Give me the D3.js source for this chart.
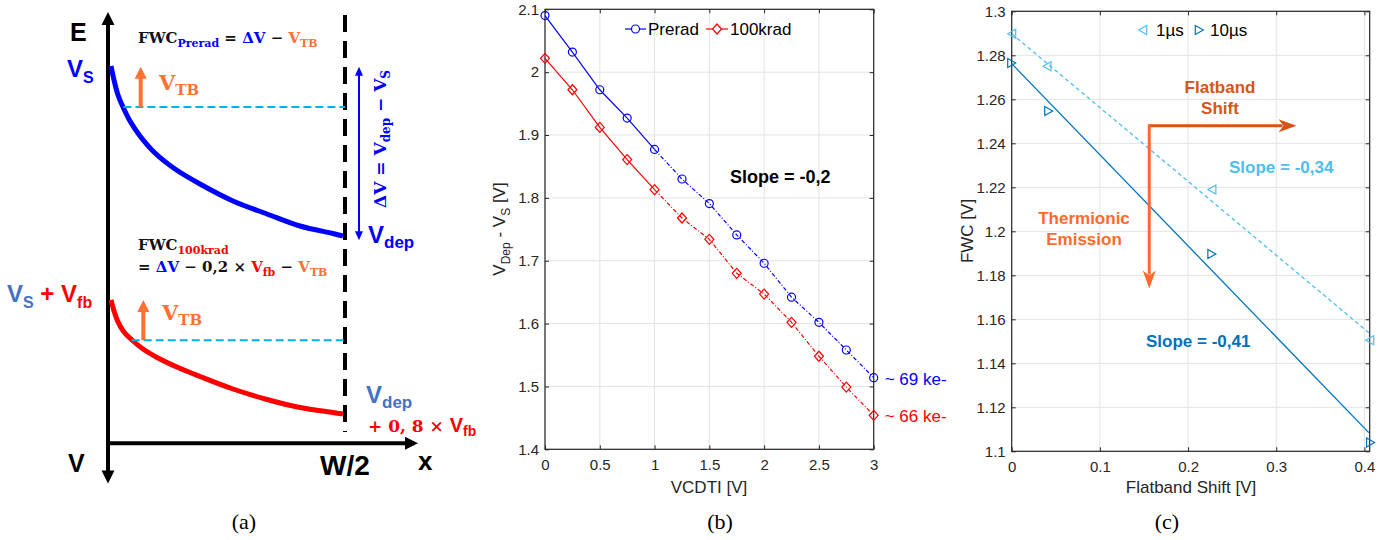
<!DOCTYPE html>
<html><head><meta charset="utf-8">
<script src="https://cdn.jsdelivr.net/npm/d3@7"></script>
<style>body{margin:0;background:#fff;}svg{display:block;}</style>
</head><body>
<script>
// ================= DATA =================
// Panel (a): schematic band diagram (x in % of W/2, y in % of energy-axis height)
const aBlueCurve = [[1.27,87.48],[2.53,84.24],[4.22,80.76],[6.33,77.98],[9.28,74.73],[13.5,71.26],[19.83,67.31],[28.27,63.6],[38.82,60.12],[52.74,56.18],[67.09,53.17],[81.01,50.38],[94.94,48.64],[99.16,48.06]];
const aRedCurve  = [[1.27,33.25],[2.53,30.7],[4.22,28.15],[6.75,25.81],[10.13,23.95],[14.77,21.86],[21.1,19.78],[29.54,17.57],[38.82,15.49],[52.74,12.59],[67.09,10.16],[81.01,8.3],[94.94,7.14],[99.16,6.79]];
const aBlueLevel = [6.5, 78.0];   // [x start, level]
const aRedLevel  = [10.0, 23.9];
const aTBArrows  = [[13.8, 78.0, 87.3], [14.9, 23.9, 33.2]]; // x, from, tip
const aDeltaArrow = [105.9, 87.3, 47.1];

// Panel (b)
const vcdti     = [0,0.25,0.5,0.75,1,1.25,1.5,1.75,2,2.25,2.5,2.75,3];
const preradV   = [2.090,2.032,1.972,1.927,1.877,1.830,1.791,1.741,1.696,1.642,1.602,1.558,1.514];
const krad100V  = [2.022,1.972,1.912,1.861,1.813,1.768,1.734,1.680,1.647,1.602,1.548,1.499,1.454];
const bXTicks   = [0,0.5,1,1.5,2,2.5,3];
const bYTicks   = [1.4,1.5,1.6,1.7,1.8,1.9,2.0,2.1];
const bSeriesNames = ["Prerad","100krad"];

// Panel (c)
const shift1us  = [0, 0.040, 0.227, 0.406];
const fwc1us    = [1.2898, 1.275, 1.219, 1.1505];
const shift10us = [0, 0.042, 0.227, 0.407];
const fwc10us   = [1.2765, 1.2547, 1.1897, 1.104];
const fit1usX   = [0, 0.405];
const fit1usY   = [1.2898, 1.1539];
const fit10usX  = [0, 0.405];
const fit10usY  = [1.2762, 1.1085];
const cXTicks   = [0,0.1,0.2,0.3,0.4];
const cYTicks   = [1.1,1.12,1.14,1.16,1.18,1.2,1.22,1.24,1.26,1.28,1.3];
const cSeriesNames = ["1µs","10µs"];
const cArrow    = {x:0.156, y:1.248, hTip:0.323, vTip:1.174};

// ================= DRAW =================
const W=1396,H=540;
const svg=d3.select("body").append("svg").attr("width",W).attr("height",H);
const SANS="'Liberation Sans', Arial, Helvetica, sans-serif";
const SERIF="'DejaVu Serif', serif";
const TIMES="'Liberation Serif', 'Times New Roman', serif";
const AX="#262626", GRID="#e3e3e3";

function head(g, tip, dir, len, hw, color, notch){
  notch = notch||0;
  const d = {up:[0,1],down:[0,-1],left:[1,0],right:[-1,0]}[dir];
  const p = [-d[1], d[0]];
  const [tx,ty]=tip, bx=tx+d[0]*len, by=ty+d[1]*len;
  const pts=[[tx,ty],[bx+p[0]*hw,by+p[1]*hw],[tx+d[0]*(len-notch),ty+d[1]*(len-notch)],[bx-p[0]*hw,by-p[1]*hw]];
  g.append("path").attr("d","M"+pts.map(q=>q.join(",")).join("L")+"Z").attr("fill",color);
}
function txt(g,x,y,parts,opts){
  const t=g.append("text").attr("x",x).attr("y",y);
  if(opts){for(const k in opts) t.attr(k,opts[k]);}
  parts.forEach(p=>{
    const s=t.append("tspan").text(p.t);
    if(p.c) s.attr("fill",p.c);
    if(p.s) s.attr("font-size",p.s);
    if(p.f) s.attr("font-family",p.f);
    if(p.dy!==undefined) s.attr("dy",p.dy);
    if(p.w) s.attr("font-weight",p.w);
  });
  return t;
}

// ---------- Panel (a) ----------
const gA=svg.append("g");
const xA=d3.scaleLinear().domain([0,100]).range([108,345]);
const yA=d3.scaleLinear().domain([0,100]).range([443.3,12]);
gA.append("line").attr("x1",xA(0)).attr("x2",xA(0)).attr("y1",yA(97)).attr("y2",yA(-6.5)).attr("stroke","#000").attr("stroke-width",4);
head(gA,[xA(0),yA(100)],"up",13,6.5,"#000");
head(gA,[xA(0),yA(-9.3)],"down",13,6.5,"#000");
gA.append("line").attr("x1",xA(0)-2).attr("x2",xA(126)).attr("y1",yA(0)).attr("y2",yA(0)).attr("stroke","#000").attr("stroke-width",4);
head(gA,[xA(130.8),yA(0)],"right",13,6.5,"#000");
// W/2 dashed boundary
gA.append("line").attr("x1",xA(100)).attr("x2",xA(100)).attr("y1",yA(99.3)).attr("y2",yA(2.6))
  .attr("stroke","#000").attr("stroke-width",4).attr("stroke-dasharray","17,9");
// potential curves
const lineA=d3.line().x(d=>xA(d[0])).y(d=>yA(d[1])).curve(d3.curveCatmullRom.alpha(0.5));
gA.append("path").attr("d",lineA(aBlueCurve)).attr("fill","none").attr("stroke","#0000ff").attr("stroke-width",5);
gA.append("path").attr("d",lineA(aRedCurve)).attr("fill","none").attr("stroke","#ff0000").attr("stroke-width",5);
// levels
[aBlueLevel,aRedLevel].forEach(l=>{
  gA.append("line").attr("x1",xA(l[0])).attr("x2",xA(100)).attr("y1",yA(l[1])).attr("y2",yA(l[1]))
    .attr("stroke","#00b0f0").attr("stroke-width",2).attr("stroke-dasharray","8,4");
});
// V_TB arrows
const ORANGE="#ff7033";
aTBArrows.forEach(a=>{
  gA.append("line").attr("x1",xA(a[0])).attr("x2",xA(a[0])).attr("y1",yA(a[1])).attr("y2",yA(a[2])+10).attr("stroke",ORANGE).attr("stroke-width",4);
  head(gA,[xA(a[0]),yA(a[2])],"up",12,6,ORANGE);
});
// delta V double arrow
gA.append("line").attr("x1",xA(aDeltaArrow[0])).attr("x2",xA(aDeltaArrow[0])).attr("y1",yA(aDeltaArrow[1])+6).attr("y2",yA(aDeltaArrow[2])-6).attr("stroke","#0000ff").attr("stroke-width",2);
head(gA,[xA(aDeltaArrow[0]),yA(aDeltaArrow[1])],"up",9,4,"#0000ff");
head(gA,[xA(aDeltaArrow[0]),yA(aDeltaArrow[2])],"down",9,4,"#0000ff");

// texts (a)
const BL="#0000ff", STEEL="#4472c4", RED="#ff0000";
txt(gA,70,41,[{t:"E"}],{"font-family":SANS,"font-weight":"bold","font-size":25,fill:"#000"});
txt(gA,68,472,[{t:"V"}],{"font-family":SANS,"font-weight":"bold","font-size":25,fill:"#000"});
txt(gA,320,475,[{t:"W/2"}],{"font-family":SANS,"font-weight":"bold","font-size":28,fill:"#000"});
txt(gA,418,470,[{t:"x"}],{"font-family":SANS,"font-weight":"bold","font-size":26,fill:"#000"});
txt(gA,67,77,[{t:"V"},{t:"S",s:16,dy:6}],{"font-family":SANS,"font-weight":"bold","font-size":24,fill:BL});
txt(gA,7,302,[{t:"V",c:STEEL},{t:"S",s:16,dy:6,c:STEEL},{t:" + V",dy:-6,c:RED},{t:"fb",s:16,dy:6,c:RED}],{"font-family":SANS,"font-weight":"bold","font-size":24});
txt(gA,368,243,[{t:"V"},{t:"dep",s:17,dy:5}],{"font-family":SANS,"font-weight":"bold","font-size":24,fill:BL});
txt(gA,366,403,[{t:"V"},{t:"dep",s:17,dy:5}],{"font-family":SANS,"font-weight":"bold","font-size":24,fill:STEEL});
txt(gA,368,432,[{t:"+ 0, 8 × ",f:SERIF},{t:"V",f:SANS,s:20},{t:"fb",f:SANS,s:14,dy:4}],{"font-weight":"bold","font-size":17,fill:RED});
// V_TB labels
txt(gA,159,90,[{t:"V"},{t:"TB",s:15,dy:5}],{"font-family":SERIF,"font-weight":"bold","font-size":21,fill:ORANGE});
txt(gA,162,320,[{t:"V"},{t:"TB",s:15,dy:5}],{"font-family":SERIF,"font-weight":"bold","font-size":21,fill:ORANGE});
// formulas
txt(gA,138,43,[{t:"FWC"},{t:"Prerad",s:11,dy:4,c:BL},{t:" = ",dy:-4},{t:"ΔV",c:BL},{t:" − "},{t:"V",c:ORANGE},{t:"TB",s:11,dy:4,c:ORANGE}],
  {"font-family":SERIF,"font-weight":"bold","font-size":15,fill:"#111"});
txt(gA,138,250,[{t:"FWC"},{t:"100krad",s:11,dy:4,c:RED}],{"font-family":SERIF,"font-weight":"bold","font-size":15,fill:"#111"});
txt(gA,138,272,[{t:"= "},{t:"ΔV",c:BL},{t:" − 0,2 × "},{t:"V",c:RED},{t:"fb",s:11,dy:4,c:RED},{t:" − ",dy:-4},{t:"V",c:ORANGE},{t:"TB",s:11,dy:4,c:ORANGE}],
  {"font-family":SERIF,"font-weight":"bold","font-size":15,fill:"#111"});
// rotated delta V
txt(gA,0,0,[{t:"ΔV = V"},{t:"dep",s:12,dy:4},{t:" − V",dy:-4},{t:"S",s:12,dy:4}],
  {"font-family":SERIF,"font-weight":"bold","font-size":17,fill:BL,transform:"translate(386,208) rotate(-90)"});
txt(gA,244,529,[{t:"(a)"}],{"font-family":TIMES,"font-size":22,"text-anchor":"middle",fill:"#000"});

// ---------- generic MATLAB-style axes ----------
function matAxes(g,x,y,xt,yt,fmt){
  const [x0,x1]=x.range(), [y0,y1]=y.range();
  const grid=g.append("g");
  xt.forEach(v=>grid.append("line").attr("x1",x(v)).attr("x2",x(v)).attr("y1",y0).attr("y2",y1).attr("stroke",GRID).attr("stroke-width",1));
  yt.forEach(v=>grid.append("line").attr("x1",x0).attr("x2",x1).attr("y1",y(v)).attr("y2",y(v)).attr("stroke",GRID).attr("stroke-width",1));
  const style=a=>{a.selectAll(".domain").remove();a.selectAll("line").attr("stroke",AX);a.selectAll("text").attr("fill",AX).attr("font-size",15).attr("font-family",SANS);};
  g.append("g").attr("transform",`translate(0,${y0})`).call(d3.axisBottom(x).tickValues(xt).tickSize(-4).tickPadding(10).tickFormat(fmt)).call(style);
  g.append("g").attr("transform",`translate(0,${y1})`).call(d3.axisTop(x).tickValues(xt).tickSize(-4).tickFormat("")).call(style);
  g.append("g").attr("transform",`translate(${x0},0)`).call(d3.axisLeft(y).tickValues(yt).tickSize(-4).tickPadding(6).tickFormat(fmt)).call(style);
  g.append("g").attr("transform",`translate(${x1},0)`).call(d3.axisRight(y).tickValues(yt).tickSize(-4).tickFormat("")).call(style);
  g.append("rect").attr("x",x0).attr("y",y1).attr("width",x1-x0).attr("height",y0-y1).attr("fill","none").attr("stroke",AX).attr("stroke-width",1.2);
}
const fmtNum=d=>String(+d.toFixed(3));

// ---------- Panel (b) ----------
const gB=svg.append("g");
const xB=d3.scaleLinear().domain([0,3]).range([545,873.7]);
const yB=d3.scaleLinear().domain([1.4,2.1]).range([449.3,9.3]);
matAxes(gB,xB,yB,bXTicks,bYTicks,fmtNum);
const bSeries=[{v:preradV,c:"#0000ff",m:"o"},{v:krad100V,c:"#ff0000",m:"d"}];
const lineB=d3.line().x(d=>xB(d[0])).y(d=>yB(d[1]));
const diamond="M0,-5L4.5,0L0,5L-4.5,0Z";
bSeries.forEach(s=>{
  const pts=vcdti.map((x,i)=>[x,s.v[i]]);
  gB.append("path").attr("d",lineB(pts.filter(p=>p[0]<=1))).attr("fill","none").attr("stroke",s.c).attr("stroke-width",1.2);
  gB.append("path").attr("d",lineB(pts.filter(p=>p[0]>=1))).attr("fill","none").attr("stroke",s.c).attr("stroke-width",1.2).attr("stroke-dasharray","4,2,1,2");
  pts.forEach(p=>{
    if(s.m==="o") gB.append("circle").attr("cx",xB(p[0])).attr("cy",yB(p[1])).attr("r",4).attr("fill","none").attr("stroke",s.c).attr("stroke-width",1.2);
    else gB.append("path").attr("d",diamond).attr("transform",`translate(${xB(p[0])},${yB(p[1])})`).attr("fill","none").attr("stroke",s.c).attr("stroke-width",1.2);
  });
});
// legend (b)
[[625,646,bSeriesNames[0],bSeries[0]],[706,728,bSeriesNames[1],bSeries[1]]].forEach(([a,b,n,s])=>{
  gB.append("line").attr("x1",a).attr("x2",b).attr("y1",29).attr("y2",29).attr("stroke",s.c).attr("stroke-width",1.2);
  const mx=(a+b)/2;
  if(s.m==="o") gB.append("circle").attr("cx",mx).attr("cy",29).attr("r",4).attr("fill","#fff").attr("stroke",s.c).attr("stroke-width",1.2);
  else gB.append("path").attr("d",diamond).attr("transform",`translate(${mx},29)`).attr("fill","#fff").attr("stroke",s.c).attr("stroke-width",1.2);
  txt(gB,b+2,35,[{t:n}],{"font-family":SANS,"font-size":17,fill:"#000"});
});
txt(gB,730,183,[{t:"Slope = -0,2"}],{"font-family":SANS,"font-size":18,"font-weight":"bold",fill:"#000"});
txt(gB,xB(3)+11,385,[{t:"~ 69 ke-"}],{"font-family":SANS,"font-size":17,fill:"#0000ff"});
txt(gB,xB(3)+11,422,[{t:"~ 66 ke-"}],{"font-family":SANS,"font-size":17,fill:"#ff0000"});
txt(gB,709,493,[{t:"VCDTI [V]"}],{"font-family":SANS,"font-size":17,"text-anchor":"middle",fill:AX});
txt(gB,0,0,[{t:"V"},{t:"Dep",s:12,dy:5},{t:" - V",dy:-5},{t:"S",s:12,dy:5},{t:" [V]",dy:-5}],
  {"font-family":SANS,"font-size":17,"text-anchor":"middle",fill:AX,transform:"translate(505,229) rotate(-90)"});
txt(gB,720,529,[{t:"(b)"}],{"font-family":TIMES,"font-size":22,"text-anchor":"middle",fill:"#000"});

// ---------- Panel (c) ----------
const gC=svg.append("g");
const xC=d3.scaleLinear().domain([0,0.406]).range([1011.7,1369.7]);
const yC=d3.scaleLinear().domain([1.1,1.3]).range([451.3,11.3]);
matAxes(gC,xC,yC,cXTicks,cYTicks,fmtNum);
const C1="#4dbeee", C10="#0072bd";
const lineC=d3.line().x(d=>xC(d[0])).y(d=>yC(d[1]));
gC.append("path").attr("d",lineC(fit1usX.map((x,i)=>[x,fit1usY[i]]))).attr("fill","none").attr("stroke",C1).attr("stroke-width",1.3).attr("stroke-dasharray","4,3");
gC.append("path").attr("d",lineC(fit10usX.map((x,i)=>[x,fit10usY[i]]))).attr("fill","none").attr("stroke",C10).attr("stroke-width",1.3);
const triL="M-4,0L4,-4.5L4,4.5Z", triR="M4,0L-4,-4.5L-4,4.5Z";
shift1us.forEach((x,i)=>gC.append("path").attr("d",triL).attr("transform",`translate(${xC(x)},${yC(fwc1us[i])})`).attr("fill","none").attr("stroke",C1).attr("stroke-width",1.2));
shift10us.forEach((x,i)=>gC.append("path").attr("d",triR).attr("transform",`translate(${xC(x)},${yC(fwc10us[i])})`).attr("fill","none").attr("stroke",C10).attr("stroke-width",1.2));
// legend (c)
gC.append("path").attr("d",triL).attr("transform","translate(1142.7,30)").attr("fill","none").attr("stroke",C1).attr("stroke-width",1.2);
txt(gC,1156,36,[{t:cSeriesNames[0]}],{"font-family":SANS,"font-size":17,fill:"#000"});
gC.append("path").attr("d",triR).attr("transform","translate(1199.3,30)").attr("fill","none").attr("stroke",C10).attr("stroke-width",1.2);
txt(gC,1210,36,[{t:cSeriesNames[1]}],{"font-family":SANS,"font-size":17,fill:"#000"});
// orange arrows
const OR1="#d95319", OR2="#ff6a2c";
gC.append("line").attr("x1",xC(cArrow.x)).attr("x2",xC(cArrow.hTip)-14).attr("y1",yC(cArrow.y)).attr("y2",yC(cArrow.y)).attr("stroke",OR1).attr("stroke-width",3);
head(gC,[xC(cArrow.hTip),yC(cArrow.y)],"right",18,6.5,OR1,5);
gC.append("line").attr("x1",xC(cArrow.x)).attr("x2",xC(cArrow.x)).attr("y1",yC(cArrow.y)-1.5).attr("y2",yC(cArrow.vTip)-14).attr("stroke",OR2).attr("stroke-width",3);
head(gC,[xC(cArrow.x),yC(cArrow.vTip)],"down",18,6.5,OR2,5);
txt(gC,1220,93,[{t:"Flatband"}],{"font-family":SANS,"font-size":17,"font-weight":"bold","text-anchor":"middle",fill:OR1});
txt(gC,1220,114,[{t:"Shift"}],{"font-family":SANS,"font-size":17,"font-weight":"bold","text-anchor":"middle",fill:OR1});
txt(gC,1084,224,[{t:"Thermionic"}],{"font-family":SANS,"font-size":17,"font-weight":"bold","text-anchor":"middle",fill:OR2});
txt(gC,1084,245,[{t:"Emission"}],{"font-family":SANS,"font-size":17,"font-weight":"bold","text-anchor":"middle",fill:OR2});
txt(gC,1229,173,[{t:"Slope = -0,34"}],{"font-family":SANS,"font-size":17,"font-weight":"bold",fill:C1});
txt(gC,1146,347,[{t:"Slope = -0,41"}],{"font-family":SANS,"font-size":17,"font-weight":"bold",fill:C10});
txt(gC,1191,493,[{t:"Flatband Shift [V]"}],{"font-family":SANS,"font-size":17,"text-anchor":"middle",fill:AX});
txt(gC,0,0,[{t:"FWC [V]"}],{"font-family":SANS,"font-size":17,"text-anchor":"middle",fill:AX,transform:"translate(973,231) rotate(-90)"});
txt(gC,1167,529,[{t:"(c)"}],{"font-family":TIMES,"font-size":22,"text-anchor":"middle",fill:"#000"});
</script>
</body></html>
